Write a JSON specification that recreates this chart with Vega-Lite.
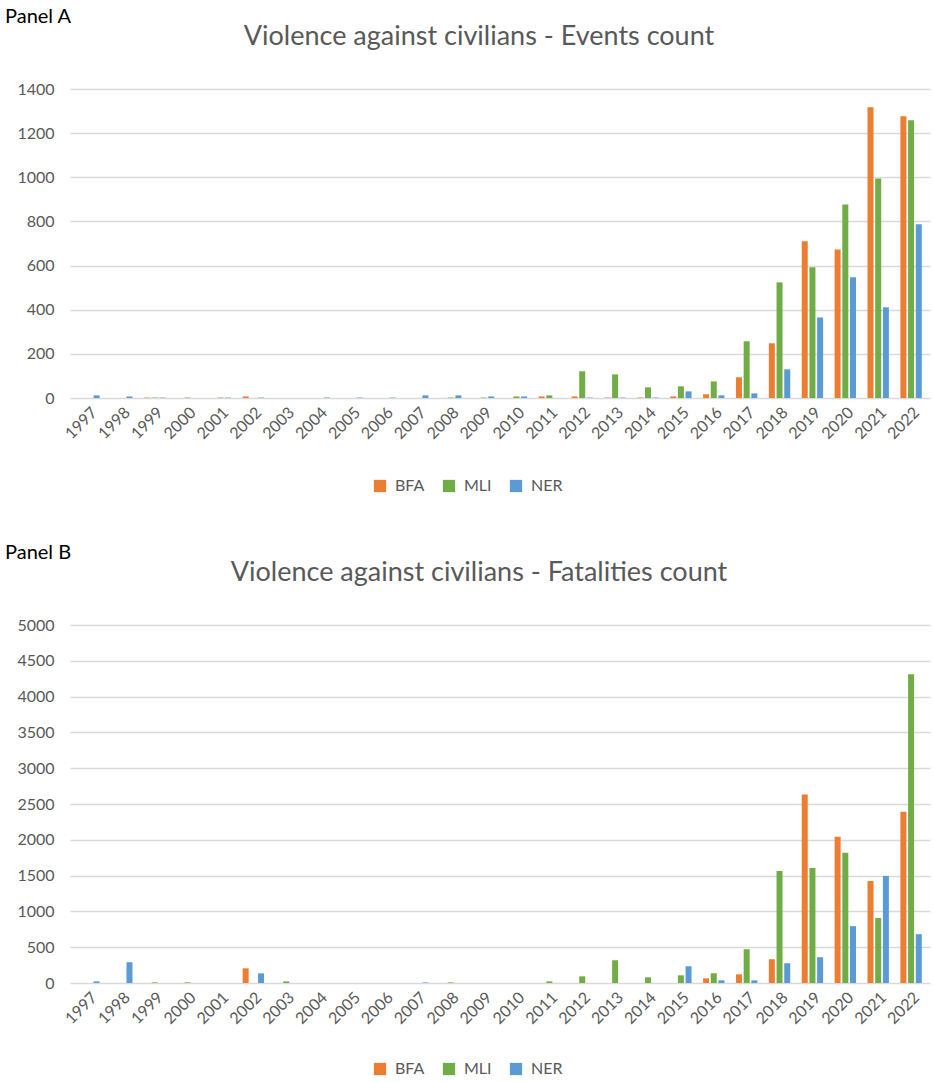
{
  "$schema": "https://vega.github.io/schema/vega-lite/v6.json",
  "background": "white",
  "padding": {"left": 5, "top": 7, "right": 3, "bottom": 5},
  "datasets": {
    "events": [
      {"year": "1997", "country": "BFA", "value": 0}, {"year": "1997", "country": "MLI", "value": 0}, {"year": "1997", "country": "NER", "value": 12},
      {"year": "1998", "country": "BFA", "value": 0}, {"year": "1998", "country": "MLI", "value": 0}, {"year": "1998", "country": "NER", "value": 7},
      {"year": "1999", "country": "BFA", "value": 2}, {"year": "1999", "country": "MLI", "value": 2}, {"year": "1999", "country": "NER", "value": 2},
      {"year": "2000", "country": "BFA", "value": 0}, {"year": "2000", "country": "MLI", "value": 2}, {"year": "2000", "country": "NER", "value": 0},
      {"year": "2001", "country": "BFA", "value": 0}, {"year": "2001", "country": "MLI", "value": 2}, {"year": "2001", "country": "NER", "value": 2},
      {"year": "2002", "country": "BFA", "value": 7}, {"year": "2002", "country": "MLI", "value": 0}, {"year": "2002", "country": "NER", "value": 2},
      {"year": "2003", "country": "BFA", "value": 0}, {"year": "2003", "country": "MLI", "value": 0}, {"year": "2003", "country": "NER", "value": 0},
      {"year": "2004", "country": "BFA", "value": 0}, {"year": "2004", "country": "MLI", "value": 0}, {"year": "2004", "country": "NER", "value": 2},
      {"year": "2005", "country": "BFA", "value": 0}, {"year": "2005", "country": "MLI", "value": 0}, {"year": "2005", "country": "NER", "value": 2},
      {"year": "2006", "country": "BFA", "value": 0}, {"year": "2006", "country": "MLI", "value": 0}, {"year": "2006", "country": "NER", "value": 2},
      {"year": "2007", "country": "BFA", "value": 0}, {"year": "2007", "country": "MLI", "value": 0}, {"year": "2007", "country": "NER", "value": 12},
      {"year": "2008", "country": "BFA", "value": 0}, {"year": "2008", "country": "MLI", "value": 2}, {"year": "2008", "country": "NER", "value": 12},
      {"year": "2009", "country": "BFA", "value": 0}, {"year": "2009", "country": "MLI", "value": 2}, {"year": "2009", "country": "NER", "value": 7},
      {"year": "2010", "country": "BFA", "value": 0}, {"year": "2010", "country": "MLI", "value": 7}, {"year": "2010", "country": "NER", "value": 7},
      {"year": "2011", "country": "BFA", "value": 7}, {"year": "2011", "country": "MLI", "value": 12}, {"year": "2011", "country": "NER", "value": 0},
      {"year": "2012", "country": "BFA", "value": 7}, {"year": "2012", "country": "MLI", "value": 121}, {"year": "2012", "country": "NER", "value": 2},
      {"year": "2013", "country": "BFA", "value": 2}, {"year": "2013", "country": "MLI", "value": 107}, {"year": "2013", "country": "NER", "value": 2},
      {"year": "2014", "country": "BFA", "value": 2}, {"year": "2014", "country": "MLI", "value": 48}, {"year": "2014", "country": "NER", "value": 2},
      {"year": "2015", "country": "BFA", "value": 7}, {"year": "2015", "country": "MLI", "value": 53}, {"year": "2015", "country": "NER", "value": 30},
      {"year": "2016", "country": "BFA", "value": 17}, {"year": "2016", "country": "MLI", "value": 75}, {"year": "2016", "country": "NER", "value": 12},
      {"year": "2017", "country": "BFA", "value": 94}, {"year": "2017", "country": "MLI", "value": 257}, {"year": "2017", "country": "NER", "value": 21},
      {"year": "2018", "country": "BFA", "value": 248}, {"year": "2018", "country": "MLI", "value": 524}, {"year": "2018", "country": "NER", "value": 130},
      {"year": "2019", "country": "BFA", "value": 710}, {"year": "2019", "country": "MLI", "value": 592}, {"year": "2019", "country": "NER", "value": 365},
      {"year": "2020", "country": "BFA", "value": 673}, {"year": "2020", "country": "MLI", "value": 877}, {"year": "2020", "country": "NER", "value": 547},
      {"year": "2021", "country": "BFA", "value": 1317}, {"year": "2021", "country": "MLI", "value": 995}, {"year": "2021", "country": "NER", "value": 411},
      {"year": "2022", "country": "BFA", "value": 1276}, {"year": "2022", "country": "MLI", "value": 1258}, {"year": "2022", "country": "NER", "value": 787}
    ],
    "fatalities": [
      {"year": "1997", "country": "BFA", "value": 0}, {"year": "1997", "country": "MLI", "value": 0}, {"year": "1997", "country": "NER", "value": 23},
      {"year": "1998", "country": "BFA", "value": 0}, {"year": "1998", "country": "MLI", "value": 0}, {"year": "1998", "country": "NER", "value": 290},
      {"year": "1999", "country": "BFA", "value": 0}, {"year": "1999", "country": "MLI", "value": 9}, {"year": "1999", "country": "NER", "value": 0},
      {"year": "2000", "country": "BFA", "value": 0}, {"year": "2000", "country": "MLI", "value": 9}, {"year": "2000", "country": "NER", "value": 0},
      {"year": "2001", "country": "BFA", "value": 0}, {"year": "2001", "country": "MLI", "value": 0}, {"year": "2001", "country": "NER", "value": 0},
      {"year": "2002", "country": "BFA", "value": 205}, {"year": "2002", "country": "MLI", "value": 0}, {"year": "2002", "country": "NER", "value": 135},
      {"year": "2003", "country": "BFA", "value": 0}, {"year": "2003", "country": "MLI", "value": 23}, {"year": "2003", "country": "NER", "value": 0},
      {"year": "2004", "country": "BFA", "value": 0}, {"year": "2004", "country": "MLI", "value": 0}, {"year": "2004", "country": "NER", "value": 0},
      {"year": "2005", "country": "BFA", "value": 0}, {"year": "2005", "country": "MLI", "value": 0}, {"year": "2005", "country": "NER", "value": 0},
      {"year": "2006", "country": "BFA", "value": 0}, {"year": "2006", "country": "MLI", "value": 0}, {"year": "2006", "country": "NER", "value": 0},
      {"year": "2007", "country": "BFA", "value": 0}, {"year": "2007", "country": "MLI", "value": 0}, {"year": "2007", "country": "NER", "value": 8},
      {"year": "2008", "country": "BFA", "value": 0}, {"year": "2008", "country": "MLI", "value": 8}, {"year": "2008", "country": "NER", "value": 0},
      {"year": "2009", "country": "BFA", "value": 0}, {"year": "2009", "country": "MLI", "value": 0}, {"year": "2009", "country": "NER", "value": 0},
      {"year": "2010", "country": "BFA", "value": 0}, {"year": "2010", "country": "MLI", "value": 0}, {"year": "2010", "country": "NER", "value": 0},
      {"year": "2011", "country": "BFA", "value": 0}, {"year": "2011", "country": "MLI", "value": 23}, {"year": "2011", "country": "NER", "value": 0},
      {"year": "2012", "country": "BFA", "value": 0}, {"year": "2012", "country": "MLI", "value": 93}, {"year": "2012", "country": "NER", "value": 0},
      {"year": "2013", "country": "BFA", "value": 0}, {"year": "2013", "country": "MLI", "value": 318}, {"year": "2013", "country": "NER", "value": 0},
      {"year": "2014", "country": "BFA", "value": 0}, {"year": "2014", "country": "MLI", "value": 79}, {"year": "2014", "country": "NER", "value": 0},
      {"year": "2015", "country": "BFA", "value": 0}, {"year": "2015", "country": "MLI", "value": 107}, {"year": "2015", "country": "NER", "value": 234},
      {"year": "2016", "country": "BFA", "value": 65}, {"year": "2016", "country": "MLI", "value": 136}, {"year": "2016", "country": "NER", "value": 37},
      {"year": "2017", "country": "BFA", "value": 121}, {"year": "2017", "country": "MLI", "value": 472}, {"year": "2017", "country": "NER", "value": 37},
      {"year": "2018", "country": "BFA", "value": 332}, {"year": "2018", "country": "MLI", "value": 1565}, {"year": "2018", "country": "NER", "value": 276},
      {"year": "2019", "country": "BFA", "value": 2631}, {"year": "2019", "country": "MLI", "value": 1607}, {"year": "2019", "country": "NER", "value": 360},
      {"year": "2020", "country": "BFA", "value": 2042}, {"year": "2020", "country": "MLI", "value": 1818}, {"year": "2020", "country": "NER", "value": 794},
      {"year": "2021", "country": "BFA", "value": 1425}, {"year": "2021", "country": "MLI", "value": 907}, {"year": "2021", "country": "NER", "value": 1495},
      {"year": "2022", "country": "BFA", "value": 2393}, {"year": "2022", "country": "MLI", "value": 4313}, {"year": "2022", "country": "NER", "value": 682}
    ]
  },
  "config": {
    "font": "Lato",
    "view": {"stroke": null},
    "title": {"color": "#595959", "fontSize": 27, "fontWeight": "normal", "font": "Lato"},
    "axis": {"labelColor": "#595959", "labelFontSize": 16, "labelFont": "Lato", "ticks": false, "domain": false, "gridColor": "#d9d9d9", "gridWidth": 1.3},
    "legend": {"labelColor": "#595959", "labelFontSize": 16, "labelFont": "Lato", "symbolType": "square", "symbolSize": 150, "symbolStrokeWidth": 0, "columnPadding": 16, "labelOffset": 7, "layout": {"bottom": {"anchor": "middle"}}},
    "concat": {"spacing": 49}
  },
  "resolve": {"scale": {"color": "independent"}, "legend": {"color": "independent"}},
  "vconcat": [
    {
      "title": {"text": "Panel A", "anchor": "start", "color": "black", "fontSize": 20, "offset": -4},
      "vconcat": [
        {
          "data": {"name": "events"},
          "title": {"text": "Violence against civilians - Events count", "anchor": "middle", "offset": 30, "dx": -21},
          "width": 860,
          "height": 309,
          "mark": {"type": "bar"},
          "encoding": {
            "x": {"field": "year", "type": "ordinal", "scale": {"paddingInner": 0.35, "paddingOuter": 0.25}, "axis": {"title": null, "labelAngle": -45, "labelPadding": 6, "grid": false}},
            "xOffset": {"field": "country", "type": "nominal", "scale": {"paddingInner": 0.22}},
            "y": {"field": "value", "type": "quantitative", "scale": {"domain": [0, 1400]}, "axis": {"title": null, "format": "d", "values": [0, 200, 400, 600, 800, 1000, 1200, 1400], "labelPadding": 16, "minExtent": 65}},
            "color": {"field": "country", "type": "nominal", "scale": {"domain": ["BFA", "MLI", "NER"], "range": ["#ED7D31", "#70AD47", "#5B9BD5"]}, "legend": {"title": null, "orient": "bottom", "direction": "horizontal", "offset": 36}}
          }
        }
      ]
    },
    {
      "title": {"text": "Panel B", "anchor": "start", "color": "black", "fontSize": 20, "offset": -4},
      "vconcat": [
        {
          "data": {"name": "fatalities"},
          "title": {"text": "Violence against civilians - Fatalities count", "anchor": "middle", "offset": 30, "dx": -21},
          "width": 860,
          "height": 358,
          "mark": {"type": "bar"},
          "encoding": {
            "x": {"field": "year", "type": "ordinal", "scale": {"paddingInner": 0.35, "paddingOuter": 0.25}, "axis": {"title": null, "labelAngle": -45, "labelPadding": 6, "grid": false}},
            "xOffset": {"field": "country", "type": "nominal", "scale": {"paddingInner": 0.22}},
            "y": {"field": "value", "type": "quantitative", "scale": {"domain": [0, 5000]}, "axis": {"title": null, "format": "d", "values": [0, 500, 1000, 1500, 2000, 2500, 3000, 3500, 4000, 4500, 5000], "labelPadding": 16, "minExtent": 65}},
            "color": {"field": "country", "type": "nominal", "scale": {"domain": ["BFA", "MLI", "NER"], "range": ["#ED7D31", "#70AD47", "#5B9BD5"]}, "legend": {"title": null, "orient": "bottom", "direction": "horizontal", "offset": 34}}
          }
        }
      ]
    }
  ]
}
